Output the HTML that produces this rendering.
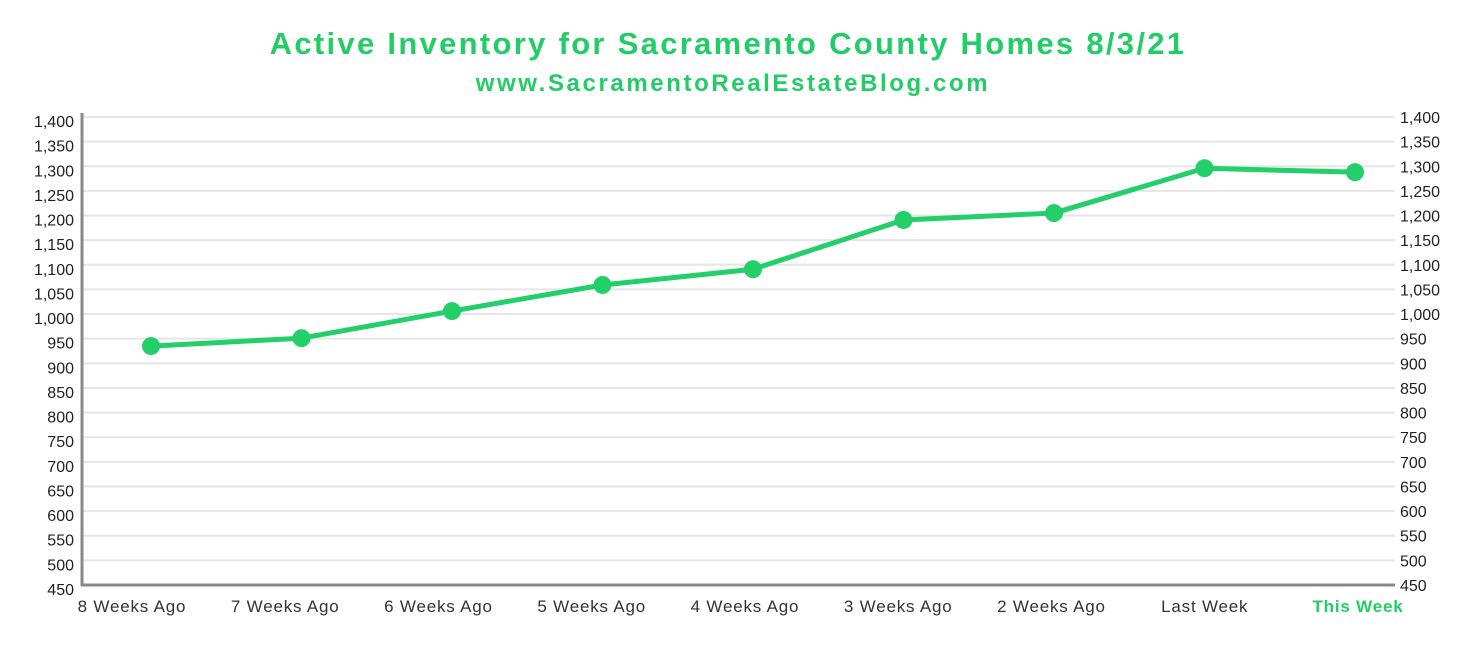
<!DOCTYPE html>
<html><head><meta charset="utf-8"><style>
body{margin:0;background:#fff;}
svg{display:block;font-family:"Liberation Sans",sans-serif;}
</style></head><body>
<svg id="chart" width="1476" height="652">
<text x="728" y="54" text-anchor="middle" font-size="31" font-weight="bold" letter-spacing="2.3" fill="#22cc66">Active Inventory for Sacramento County Homes 8/3/21</text>
<text x="733" y="91" text-anchor="middle" font-size="24" font-weight="bold" letter-spacing="2.6" fill="#22cc66">www.SacramentoRealEstateBlog.com</text>
<g id="grid"></g><g id="marks"></g><g id="labels"></g>
</svg>
<script>
const categories=["8 Weeks Ago","7 Weeks Ago","6 Weeks Ago","5 Weeks Ago","4 Weeks Ago","3 Weeks Ago","2 Weeks Ago","Last Week","This Week"];
const values=[935,951,1006,1059,1091,1191,1205,1296,1288];
const ticks=[450,500,550,600,650,700,750,800,850,900,950,1000,1050,1100,1150,1200,1250,1300,1350,1400];
const NS="http://www.w3.org/2000/svg";
const yMin=450,yMax=1400,yTop=117,yBot=585,xL=82,xR=1395;
const y=v=>yBot-(v-yMin)/(yMax-yMin)*(yBot-yTop);
const xp=i=>151+i*(1355-151)/(categories.length-1);
const xl=i=>132+i*(1358-132)/(categories.length-1);
const fmt=v=>v.toLocaleString("en-US");
function mk(t,a,p){const e=document.createElementNS(NS,t);for(const k in a)e.setAttribute(k,a[k]);p.appendChild(e);return e;}
const g=document.getElementById("grid"),m=document.getElementById("marks"),L=document.getElementById("labels");
ticks.forEach(t=>{
 if(t>yMin){const l=mk("line",{x1:xL,x2:xR,y1:y(t),y2:y(t),stroke:"#e6e6e6","stroke-width":2},g);
 
 }
 const a=mk("text",{x:74,y:y(t)+10,"text-anchor":"end","font-size":16,fill:"#222"},L);a.textContent=fmt(t);
 
 
 const b=mk("text",{x:1400,y:y(t)+6,"text-anchor":"start","font-size":16,fill:"#222"},L);b.textContent=fmt(t);
 
 
});
const ya=mk("line",{x1:xL,x2:xL,y1:113,y2:yBot+1,stroke:"#888","stroke-width":3},g);


const xa=mk("line",{x1:xL-1,x2:xR,y1:yBot,y2:yBot,stroke:"#888","stroke-width":3},g);


const pts=values.map((v,i)=>xp(i)+","+y(v)).join(" ");
const pl=mk("polyline",{points:pts,fill:"none",stroke:"#22cf68","stroke-width":5,"stroke-linejoin":"round"},m);


values.forEach((v,i)=>{
 const c=mk("circle",{cx:xp(i),cy:y(v),r:9,fill:"#22cf68"},m);
 
 
});
categories.forEach((c,i)=>{
 const last=i===categories.length-1;
 const t=mk("text",{x:xl(i),y:612,"text-anchor":"middle","font-size":17,"letter-spacing":0.8,fill:last?"#22cc66":"#333","font-weight":last?"bold":"normal"},L);
 t.textContent=c;
 
 
});
</script>
</body></html>
